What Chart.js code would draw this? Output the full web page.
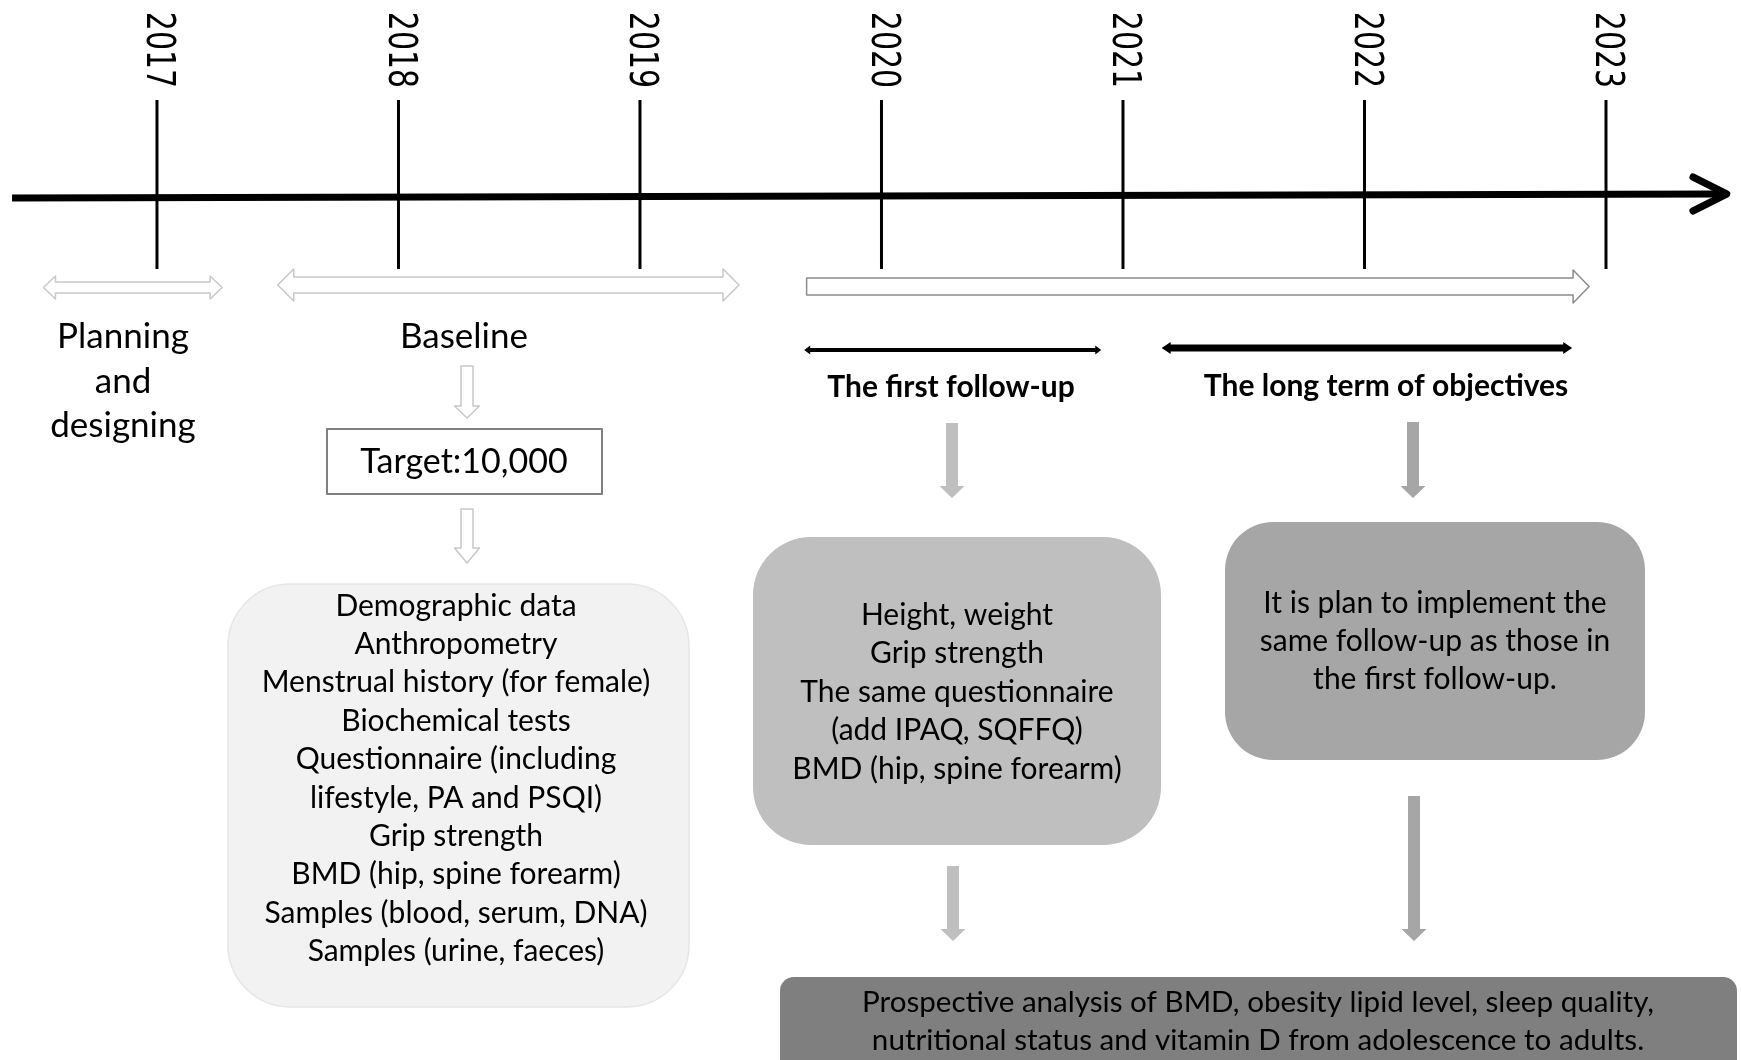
<!DOCTYPE html>
<html>
<head>
<meta charset="utf-8">
<script src="https://cdn.jsdelivr.net/npm/chart.js@4.4.1/dist/chart.umd.min.js"></script>
<style>
  html, body { margin: 0; padding: 0; background: #fff; }
  canvas { display: block; }
</style>
</head>
<body>
<canvas id="timeline" width="1741" height="1060"></canvas>
<script>
// Timeline data
const years = [2017, 2018, 2019, 2020, 2021, 2022, 2023];
const yearLabels = ['2017', '2018', '2019', '2020', '2021', '2022', '2023'];

// phases shown as hollow arrows under the axis (in years)
const phaseStart = [2016.53, 2017.50, 2019.69];
const phaseEnd = [2017.27, 2019.41, 2022.93];

// follow-up stages shown as bold black arrows (in years)
const stageNames = ['The first follow-up', 'The long term of objectives'];
const stageStart = [2019.68, 2021.16];
const stageEnd = [2020.91, 2022.86];

const planningText = ['Planning', 'and', 'designing'];
const baselineTitle = 'Baseline';
const targetText = 'Target:10,000';
const baselineItems = [
    'Demographic data',
    'Anthropometry',
    'Menstrual history (for female)',
    'Biochemical tests',
    'Questionnaire (including',
    'lifestyle, PA and PSQI)',
    'Grip strength',
    'BMD (hip, spine forearm)',
    'Samples (blood, serum, DNA)',
    'Samples (urine, faeces)'
];
const followUpItems = [
    'Height, weight',
    'Grip strength',
    'The same questionnaire',
    '(add IPAQ, SQFFQ)',
    'BMD (hip, spine forearm)'
];
const longTermItems = [
    'It is plan to implement the',
    'same follow-up as those in',
    'the first follow-up.'
];
const outcomeItems = [
    'Prospective analysis of BMD, obesity lipid level, sleep quality,',
    'nutritional status and vitamin D from adolescence to adults.'
];

const FONT = 'Lato, "Open Sans", sans-serif';

// helpers
function roundBox(ctx, x1, y1, x2, y2, r, fill, stroke) {
    ctx.beginPath();
    ctx.roundRect(x1, y1, x2 - x1, y2 - y1, r);
    ctx.fillStyle = fill;
    ctx.fill();
    if (stroke) {
        ctx.strokeStyle = stroke;
        ctx.lineWidth = 1.5;
        ctx.stroke();
    }
}

function hollowArrow(ctx, x1, x2, cy, h1, h2, L, both, stroke) {
    ctx.beginPath();
    if (both) {
        ctx.moveTo(x1, cy);
        ctx.lineTo(x1 + L, cy - h2);
        ctx.lineTo(x1 + L, cy - h1);
    } else {
        ctx.moveTo(x1, cy - h1);
    }
    ctx.lineTo(x2 - L, cy - h1);
    ctx.lineTo(x2 - L, cy - h2);
    ctx.lineTo(x2, cy);
    ctx.lineTo(x2 - L, cy + h2);
    ctx.lineTo(x2 - L, cy + h1);
    if (both) {
        ctx.lineTo(x1 + L, cy + h1);
        ctx.lineTo(x1 + L, cy + h2);
    } else {
        ctx.lineTo(x1, cy + h1);
    }
    ctx.closePath();
    ctx.fillStyle = '#fff';
    ctx.fill();
    ctx.strokeStyle = stroke;
    ctx.lineWidth = 1.5;
    ctx.stroke();
}

function hollowDown(ctx, cx, y1, y2, h1, h2, L) {
    ctx.beginPath();
    ctx.moveTo(cx - h1, y1);
    ctx.lineTo(cx + h1, y1);
    ctx.lineTo(cx + h1, y2 - L);
    ctx.lineTo(cx + h2, y2 - L);
    ctx.lineTo(cx, y2);
    ctx.lineTo(cx - h2, y2 - L);
    ctx.lineTo(cx - h1, y2 - L);
    ctx.closePath();
    ctx.fillStyle = '#fff';
    ctx.fill();
    ctx.strokeStyle = '#c8c8c8';
    ctx.lineWidth = 1.5;
    ctx.stroke();
}

function solidDown(ctx, cx, y1, y2, color) {
    ctx.beginPath();
    ctx.moveTo(cx - 6, y1);
    ctx.lineTo(cx + 6, y1);
    ctx.lineTo(cx + 6, y2 - 12);
    ctx.lineTo(cx + 12.5, y2 - 12);
    ctx.lineTo(cx, y2);
    ctx.lineTo(cx - 12.5, y2 - 12);
    ctx.lineTo(cx - 6, y2 - 12);
    ctx.closePath();
    ctx.fillStyle = color;
    ctx.fill();
}

function boldDouble(ctx, x1, x2, cy, w) {
    const h = w / 2;
    const hh = h + 2.5;
    const L = w + 2;
    ctx.beginPath();
    ctx.moveTo(x1, cy);
    ctx.lineTo(x1 + L, cy - hh);
    ctx.lineTo(x1 + L, cy - h);
    ctx.lineTo(x2 - L, cy - h);
    ctx.lineTo(x2 - L, cy - hh);
    ctx.lineTo(x2, cy);
    ctx.lineTo(x2 - L, cy + hh);
    ctx.lineTo(x2 - L, cy + h);
    ctx.lineTo(x1 + L, cy + h);
    ctx.lineTo(x1 + L, cy + hh);
    ctx.closePath();
    ctx.fillStyle = '#000';
    ctx.fill();
}

function lines(ctx, arr, cx, y0, step, font) {
    ctx.font = font;
    ctx.fillStyle = '#000';
    ctx.textAlign = 'center';
    ctx.textBaseline = 'middle';
    arr.forEach((t, i) => ctx.fillText(t, cx, y0 + i * step));
}

// Diagram plugin
const diagramPlugin = {
    id: 'diagram',
    afterDatasetsDraw(chart) {
        const ctx = chart.ctx;
        const xs = chart.scales.x;
        const ys = chart.scales.y;
        const X = v => xs.getPixelForValue(v);
        const Y = v => ys.getPixelForValue(v);
        ctx.save();

        // arrow head of the time axis
        ctx.beginPath();
        ctx.moveTo(X(2023.36), Y(177));
        ctx.lineTo(X(2023.50), Y(194));
        ctx.lineTo(X(2023.36), Y(211));
        ctx.strokeStyle = '#000';
        ctx.lineWidth = 7;
        ctx.lineCap = 'round';
        ctx.lineJoin = 'round';
        ctx.stroke();

        // year labels, rotated clockwise
        ctx.font = '30px "DejaVu Sans"';
        ctx.fillStyle = '#000';
        ctx.textAlign = 'center';
        ctx.textBaseline = 'middle';
        years.forEach((yr, i) => {
            ctx.save();
            ctx.translate(X(yr), Y(50));
            ctx.rotate(Math.PI / 2);
            ctx.scale(1, 1.28);
            ctx.fillText(yearLabels[i], 0, 0);
            ctx.restore();
        });

        // phase arrows
        hollowArrow(ctx, X(phaseStart[0]), X(phaseEnd[0]), Y(287.5), 5.5, 11.5, 12, true, '#c8c8c8');
        hollowArrow(ctx, X(phaseStart[1]), X(phaseEnd[1]), Y(285), 8, 16, 16, true, '#c8c8c8');
        hollowArrow(ctx, X(phaseStart[2]), X(phaseEnd[2]), Y(286.5), 8.5, 16.5, 16, false, '#8c8c8c');

        // stage arrows
        boldDouble(ctx, X(stageStart[0]), X(stageEnd[0]), Y(350), 4);
        boldDouble(ctx, X(stageStart[1]), X(stageEnd[1]), Y(348), 7);

        lines(ctx, planningText, 123, 337, 44.5, '35px ' + FONT);
        lines(ctx, [baselineTitle], 464, 337, 0, '35px ' + FONT);
        lines(ctx, [stageNames[0]], 951, 387, 0, 'bold 30px ' + FONT);
        lines(ctx, [stageNames[1]], 1386, 386, 0, 'bold 30px ' + FONT);

        // baseline flow
        hollowDown(ctx, 467, 366, 418, 6, 12.5, 12);
        ctx.strokeStyle = '#808080';
        ctx.lineWidth = 2;
        ctx.strokeRect(327, 429, 275, 65);
        lines(ctx, [targetText], 464, 462, 0, '34px ' + FONT);
        hollowDown(ctx, 467, 509, 563, 6, 12.5, 15);
        roundBox(ctx, 228, 584, 689, 1007, 62, '#f2f2f2', '#e6e6e6');
        lines(ctx, baselineItems, 456, 606, 38.4, '30px ' + FONT);

        // follow-up flow
        solidDown(ctx, 952, 423, 498, '#bfbfbf');
        solidDown(ctx, 1413, 422, 498, '#a6a6a6');
        roundBox(ctx, 753, 537, 1161, 845, 58, '#bfbfbf');
        lines(ctx, followUpItems, 957, 615, 38.6, '30px ' + FONT);
        roundBox(ctx, 1225, 522, 1645, 760, 48, '#a6a6a6');
        lines(ctx, longTermItems, 1435, 603, 38.3, '30px ' + FONT);
        solidDown(ctx, 953, 866, 941, '#bfbfbf');
        solidDown(ctx, 1414, 796, 941, '#a6a6a6');
        roundBox(ctx, 780, 977, 1737, 1090, 14, '#7f7f7f');
        lines(ctx, outcomeItems, 1258, 1002, 38.5, '29.6px ' + FONT);

        ctx.restore();
    }
};

// tick marks: one segment per year, broken by null points
const tickPoints = [];
years.forEach(yr => {
    tickPoints.push({ x: yr, y: 100 }, { x: yr, y: 269 }, { x: yr, y: null });
});

const ctx = document.getElementById('timeline').getContext('2d');
new Chart(ctx, {
    type: 'scatter',
    data: {
        datasets: [
            {
                label: 'Time axis',
                data: [{ x: 2016.40, y: 198 }, { x: 2023.48, y: 194 }],
                showLine: true,
                borderColor: '#000',
                borderWidth: 7,
                pointRadius: 0
            },
            {
                label: 'Years',
                data: tickPoints,
                showLine: true,
                spanGaps: false,
                borderColor: '#000',
                borderWidth: 3,
                pointRadius: 0
            }
        ]
    },
    options: {
        responsive: false,
        animation: false,
        devicePixelRatio: 1,
        layout: { padding: 0 },
        plugins: {
            legend: { display: false },
            tooltip: { enabled: false }
        },
        scales: {
            x: { type: 'linear', min: 2016.35, max: 2023.559, display: false },
            y: { type: 'linear', min: 0, max: 1060, reverse: true, display: false }
        }
    },
    plugins: [diagramPlugin]
});
</script>
</body>
</html>
